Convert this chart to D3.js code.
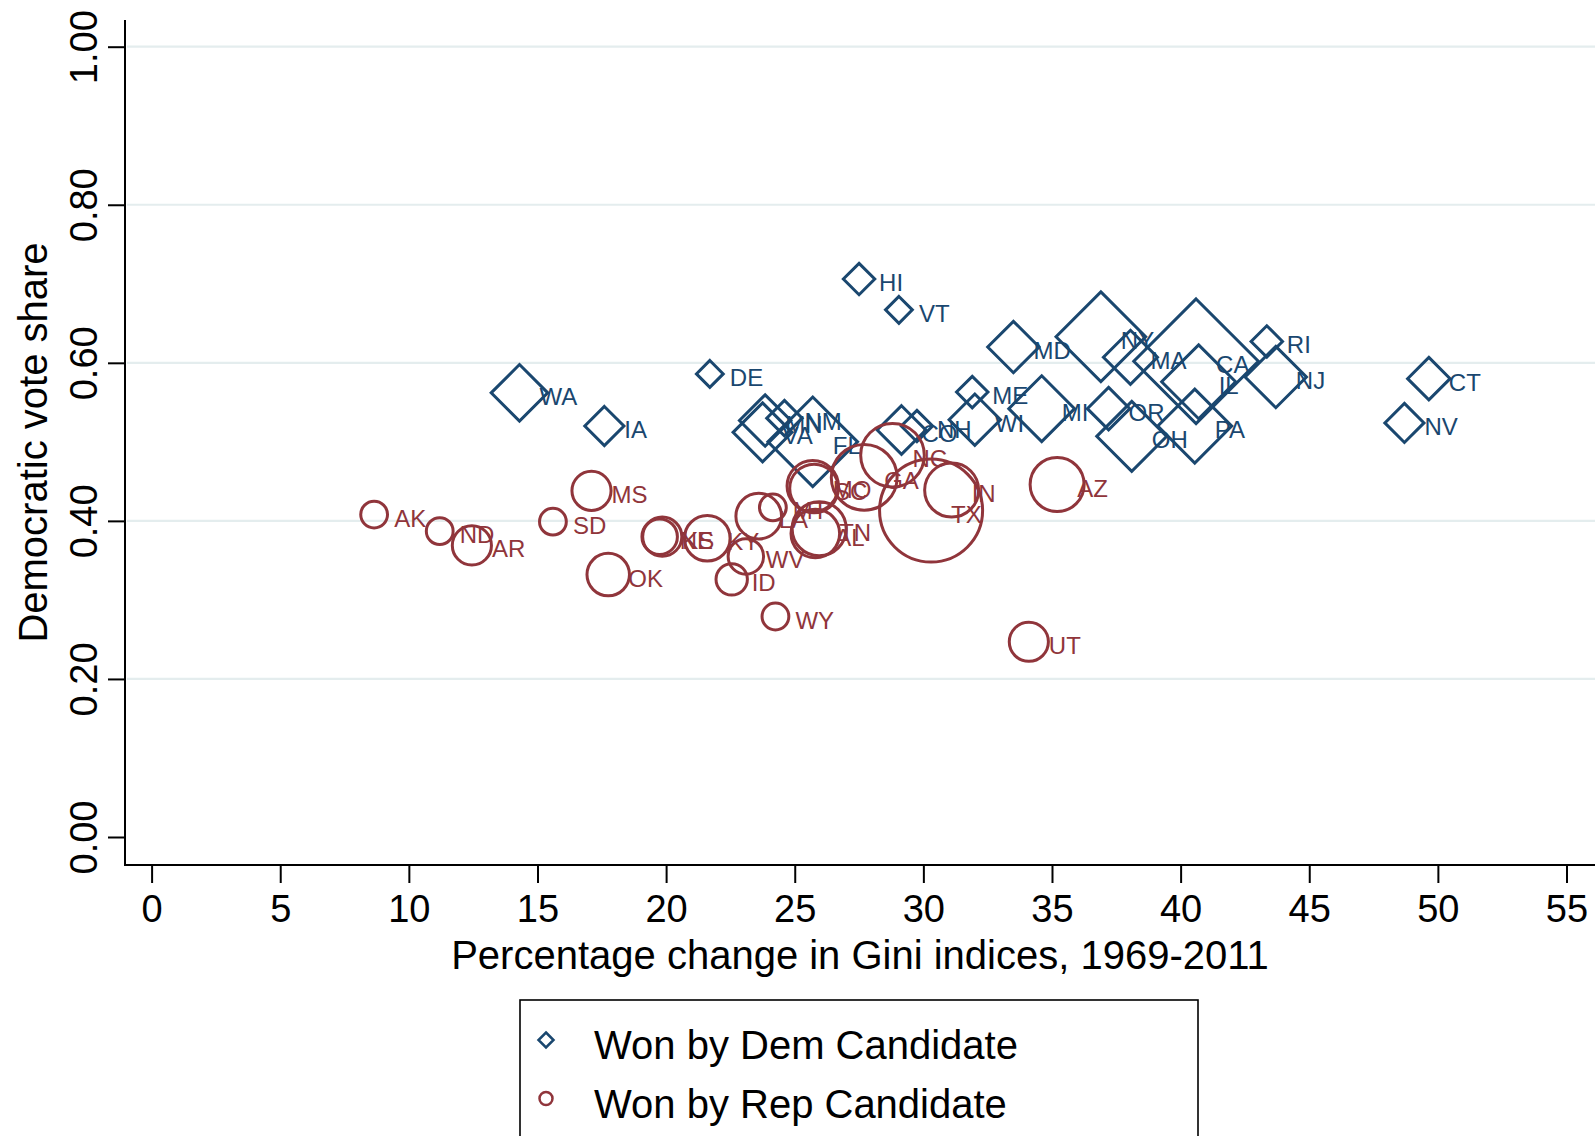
<!DOCTYPE html>
<html>
<head>
<meta charset="utf-8">
<script src="https://cdn.jsdelivr.net/npm/d3@7/dist/d3.min.js"></script>
<style>
  html, body { margin: 0; padding: 0; background: #fff; }
  svg { display: block; }
  text { font-family: "Liberation Sans", Arial, Helvetica, sans-serif; }
</style>
</head>
<body>
<svg id="chart" width="1595" height="1136"></svg>
<script>
// ---------- data ----------
const demStates = ["HI","VT","DE","WA","IA","MD","NY","MA","CA","IL","PA","OH","OR","MI","RI","NJ","CT","NV","ME","WI","NH","CO","FL","VA","MN","NM"];
const demGini   = [27.5, 29.05, 21.7, 14.3, 17.6, 33.5, 36.9, 38.05, 40.6, 40.7, 40.55, 38.1, 37.2, 34.6, 43.35, 43.7, 49.65, 48.7, 31.9, 32.0, 29.75, 29.15, 25.7, 23.75, 23.85, 24.6];
const demShare  = [0.706, 0.667, 0.586, 0.562, 0.520, 0.620, 0.633, 0.607, 0.602, 0.576, 0.520, 0.507, 0.542, 0.542, 0.627, 0.582, 0.580, 0.524, 0.563, 0.528, 0.520, 0.515, 0.500, 0.512, 0.527, 0.530];
const demWeight = [4, 3, 3, 12, 6, 10, 29, 11, 55, 20, 20, 18, 7, 16, 4, 14, 7, 6, 4, 10, 4, 9, 29, 13, 10, 5];

const repStates = ["AK","ND","AR","SD","MS","OK","NE","KS","KY","WV","ID","WY","LA","MT","AL","TN","MO","SC","GA","NC","IN","TX","AZ","UT"];
const repGini   = [8.65, 11.2, 12.45, 15.6, 17.1, 17.75, 19.75, 19.85, 21.6, 23.1, 22.55, 24.25, 23.6, 24.15, 25.8, 25.95, 25.7, 25.75, 27.7, 28.8, 31.1, 30.3, 35.2, 34.1];
const repShare  = [0.408, 0.387, 0.369, 0.399, 0.438, 0.332, 0.380, 0.380, 0.378, 0.355, 0.326, 0.279, 0.406, 0.417, 0.384, 0.390, 0.444, 0.441, 0.455, 0.483, 0.439, 0.413, 0.446, 0.247];
const repWeight = [3, 3, 6, 3, 6, 7, 5, 6, 8, 5, 4, 3, 8, 3, 9, 11, 10, 9, 16, 15, 11, 38, 11, 6];

const xTicks = [0, 5, 10, 15, 20, 25, 30, 35, 40, 45, 50, 55];
const yTicks = [0, 0.2, 0.4, 0.6, 0.8, 1.0];
const yGrid  = [0.2, 0.4, 0.6, 0.8, 1.0];
const xTitle = "Percentage change in Gini indices, 1969-2011";
const yTitle = "Democratic vote share";
const legendLabels = ["Won by Dem Candidate", "Won by Rep Candidate"];

// ---------- layout ----------
const NAVY = "#1a476f", MAROON = "#90353b";
const svg = d3.select("#chart");
const plotLeft = 125, plotRight = 1595, plotTop = 20, plotBottom = 865;

const x = d3.scaleLinear().domain([0, 55]).range([151.6, 1566.5]);
const y = d3.scaleLinear().domain([0, 1]).range([837, 46.7]);
const size = d3.scaleSqrt().domain([0, 55]).range([0, 8.6 * Math.sqrt(55)]);

// gridlines
svg.append("g").selectAll("line").data(yGrid).join("line")
  .attr("x1", plotLeft + 2).attr("x2", plotRight)
  .attr("y1", d => y(d)).attr("y2", d => y(d))
  .attr("stroke", "#e4edee").attr("stroke-width", 2.2);

// y axis
const yAxis = d3.axisLeft(y).tickValues(yTicks).tickFormat(d3.format(".2f")).tickSize(17).tickPadding(0);
const gy = svg.append("g").attr("transform", `translate(${plotLeft},0)`).call(yAxis);
gy.select(".domain").remove();
gy.selectAll(".tick line").attr("stroke", "#000").attr("stroke-width", 2);
gy.selectAll(".tick text")
  .attr("transform", `translate(${97 - plotLeft},0) rotate(-90)`)
  .attr("x", 0).attr("y", 0).attr("dy", 0)
  .attr("text-anchor", "middle")
  .attr("font-size", 38).attr("fill", "#000")
  .attr("font-family", "'Liberation Sans', Arial, sans-serif");
svg.append("line").attr("x1", plotLeft).attr("x2", plotLeft).attr("y1", plotTop).attr("y2", plotBottom + 1)
  .attr("stroke", "#000").attr("stroke-width", 2);

// x axis
const xAxis = d3.axisBottom(x).tickValues(xTicks).tickFormat(d3.format("d")).tickSize(18).tickPadding(0);
const gx = svg.append("g").attr("transform", `translate(0,${plotBottom})`).call(xAxis);
gx.select(".domain").remove();
gx.selectAll(".tick line").attr("stroke", "#000").attr("stroke-width", 2);
gx.selectAll(".tick text")
  .attr("y", 56.5).attr("dy", 0)
  .attr("font-size", 38).attr("fill", "#000")
  .attr("font-family", "'Liberation Sans', Arial, sans-serif");
svg.append("line").attr("x1", plotLeft - 1).attr("x2", plotRight).attr("y1", plotBottom).attr("y2", plotBottom)
  .attr("stroke", "#000").attr("stroke-width", 2.2);

// axis titles
svg.append("text").attr("x", (plotLeft + plotRight) / 2).attr("y", 969)
  .attr("text-anchor", "middle").attr("font-size", 40).attr("fill", "#000").text(xTitle);
svg.append("text").attr("transform", `translate(47,${(plotTop + plotBottom) / 2}) rotate(-90)`)
  .attr("text-anchor", "middle").attr("font-size", 40).attr("fill", "#000").text(yTitle);

// ---------- marks ----------
const dem = demStates.map((s, i) => ({ s, gx: demGini[i], v: demShare[i], w: demWeight[i] }));
const rep = repStates.map((s, i) => ({ s, gx: repGini[i], v: repShare[i], w: repWeight[i] }));
const SW = 3;

function diamondPath(h) { return `M0,${-h}L${h},0L0,${h}L${-h},0Z`; }

const gDem = svg.append("g");
gDem.selectAll("path").data(dem).join("path")
  .attr("transform", d => `translate(${x(d.gx)},${y(d.v)})`)
  .attr("d", d => diamondPath(size(d.w) - SW / 2))
  .attr("fill", "none").attr("stroke", NAVY).attr("stroke-width", SW).attr("stroke-linejoin", "miter");
gDem.selectAll("text").data(dem).join("text")
  .attr("x", d => x(d.gx) + 20).attr("y", d => y(d.v) + 12)
  .attr("font-size", 24).attr("fill", NAVY).text(d => d.s);

const gRep = svg.append("g");
gRep.selectAll("circle").data(rep).join("circle")
  .attr("cx", d => x(d.gx)).attr("cy", d => y(d.v))
  .attr("r", d => size(d.w) - SW / 2)
  .attr("fill", "none").attr("stroke", MAROON).attr("stroke-width", SW);
gRep.selectAll("text").data(rep).join("text")
  .attr("x", d => x(d.gx) + 20).attr("y", d => y(d.v) + 12)
  .attr("font-size", 24).attr("fill", MAROON).text(d => d.s);

// ---------- legend ----------
const lg = svg.append("g");
lg.append("rect").attr("x", 520).attr("y", 1000).attr("width", 678).attr("height", 160)
  .attr("fill", "#fff").attr("stroke", "#000").attr("stroke-width", 1.6);
const legendItems = [
  { label: legendLabels[0], color: NAVY, shape: "diamond", cy: 1040 },
  { label: legendLabels[1], color: MAROON, shape: "circle", cy: 1098.5 }
];
legendItems.forEach(it => {
  if (it.shape === "diamond") {
    lg.append("path").attr("transform", `translate(546,${it.cy})`).attr("d", diamondPath(7.5))
      .attr("fill", "none").attr("stroke", it.color).attr("stroke-width", 2.5);
  } else {
    lg.append("circle").attr("cx", 546).attr("cy", it.cy).attr("r", 6.5)
      .attr("fill", "none").attr("stroke", it.color).attr("stroke-width", 2.5);
  }
  lg.append("text").attr("x", 594).attr("y", it.cy + 19).attr("font-size", 40).attr("fill", "#000").text(it.label);
});
</script>
</body>
</html>
